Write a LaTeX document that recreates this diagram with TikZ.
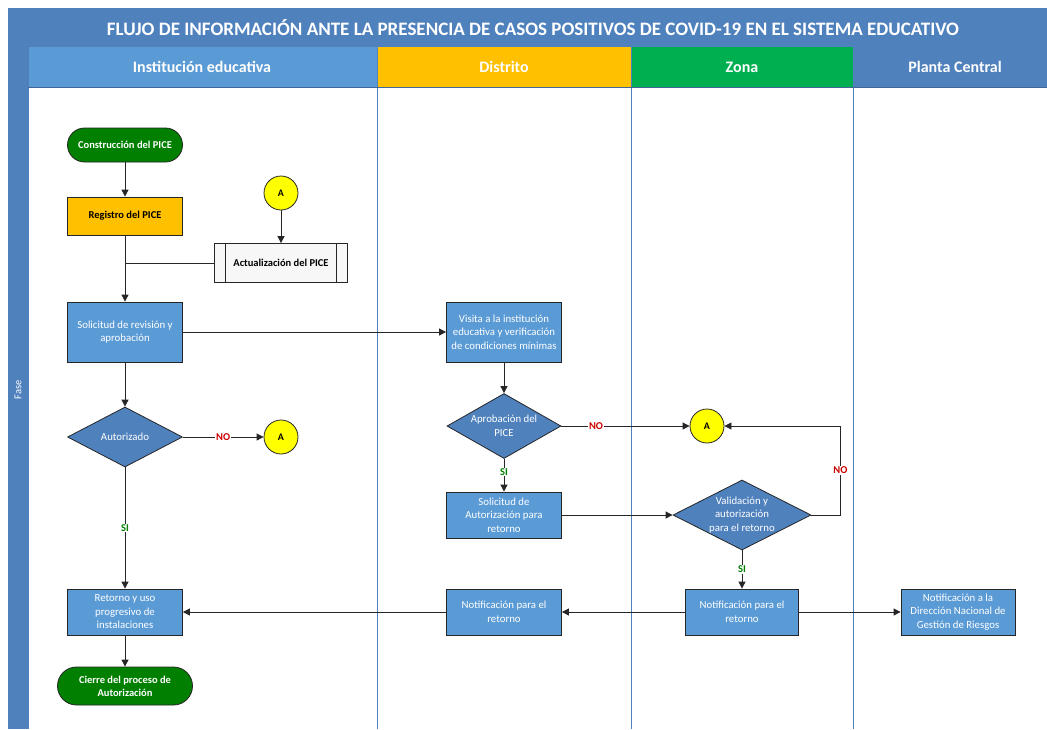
\documentclass[tikz,border=0pt]{standalone}
\usepackage{fontspec}
\setmainfont{Carlito}
\usetikzlibrary{arrows.meta,positioning,shapes,calc}
\definecolor{barblue}{HTML}{4F81BD}
\definecolor{boxblue}{HTML}{5B9BD5}
\definecolor{laneyellow}{HTML}{FFC000}
\definecolor{lanegreen}{HTML}{00B050}
\definecolor{termgreen}{HTML}{007F00}
\definecolor{conyellow}{HTML}{FFFF00}
\tikzstyle{every picture}=[x=1pt,y=-1pt]
\tikzstyle{process}=[rectangle,draw=black!85,fill=boxblue,text=white,line width=0.8pt,minimum width=115pt,minimum height=46pt,align=center,inner sep=2pt,font=\fontsize{10.8}{13.5}\selectfont]
\tikzstyle{decision}=[diamond,draw=black!85,fill=barblue,text=white,line width=0.8pt,minimum width=115pt,minimum height=62pt,inner xsep=-30pt,inner ysep=-15pt,align=center,font=\fontsize{10.8}{13.5}\selectfont]
\tikzstyle{terminal}=[rectangle,rounded corners=17pt,draw=black!85,fill=termgreen,text=white,line width=0.8pt,minimum width=115pt,minimum height=34pt,align=center,font=\bfseries\fontsize{10.5}{13}\selectfont]
\tikzstyle{connector}=[circle,draw=black!85,fill=conyellow,line width=0.8pt,minimum size=34pt,inner sep=0pt,font=\bfseries\fontsize{10}{12}\selectfont]
\tikzstyle{lanehead}=[text=white,font=\bfseries\fontsize{16}{19}\selectfont]
\tikzstyle{arr}=[-{Triangle[length=7pt,width=7pt]},line width=0.8pt,draw=black!85]
\tikzstyle{nolabel}=[fill=white,text=red!80!black,inner sep=1pt,font=\bfseries\fontsize{10.5}{12}\selectfont]
\tikzstyle{silabel}=[fill=white,text=green!50!black,inner sep=1pt,font=\bfseries\fontsize{10.5}{12}\selectfont]

\begin{document}
\begin{tikzpicture}
      \useasboundingbox (0,0) rectangle (1047,729);
      % frame, title and lanes
      \fill[barblue] (8,8) rectangle (1047,47);
      \node[lanehead,font=\bfseries\fontsize{19}{22}\selectfont] at (533,28) (title) {FLUJO DE INFORMACIÓN ANTE LA PRESENCIA DE CASOS POSITIVOS DE COVID-19 EN EL SISTEMA EDUCATIVO};
      \fill[barblue] (8,47) rectangle (28,729);
      \node[text=white,rotate=90,font=\fontsize{10.5}{12}\selectfont] at (18,390) (fase) {Fase};
      \fill[boxblue] (28,47) rectangle (377,87);
      \fill[laneyellow] (377,47) rectangle (631,87);
      \fill[lanegreen] (631,47) rectangle (853,87);
      \fill[barblue] (853,47) rectangle (1047,87);
      \node[lanehead] at (202,67) (ie) {Institución educativa};
      \node[lanehead] at (504,67) (dis) {Distrito};
      \node[lanehead] at (742,67) (zon) {Zona};
      \node[lanehead] at (955,67) (pc) {Planta Central};
      \foreach \x in {28,377,631,853}
        \draw[barblue,line width=0.8pt] (\x,47) -- (\x,729);
      \draw[barblue!80!black,line width=0.6pt] (28,87) -- (1047,87);

      % nodes
      \node[terminal] at (125,145) (cons) {Construcción del PICE};
      \node[process,fill=laneyellow,text=black,font=\bfseries\fontsize{10.5}{13}\selectfont,minimum height=38pt] at (125,216) (reg) {Registro del PICE};
      \node[connector] at (281,193) (conA) {A};
      \node[process,fill=gray!6,text=black,font=\bfseries\fontsize{10.5}{13}\selectfont,minimum width=133pt,minimum height=39pt,
            path picture={\draw[black!85,line width=0.8pt] ($(path picture bounding box.north west)+(11,0)$) -- ($(path picture bounding box.south west)+(11,0)$)
                                                          ($(path picture bounding box.north east)+(-11,0)$) -- ($(path picture bounding box.south east)+(-11,0)$);}] at (281,263) (act) {Actualización del PICE};
      \node[process,minimum height=60pt] at (125,332) (sol) {Solicitud de revisión y\\aprobación};
      \node[process,minimum height=60pt] at (504,332) (vis) {Visita a la institución\\educativa y verificación\\de condiciones mínimas};
      \node[decision,minimum height=60pt] at (125,437) (aut) {Autorizado};
      \node[connector] at (281,437) (conB) {A};
      \node[decision,minimum width=114pt,minimum height=65pt] at (504,426) (apr) {Aprobación del\\PICE};
      \node[connector] at (707,426) (conC) {A};
      \node[process] at (504,515) (solaut) {Solicitud de\\Autorización para\\retorno};
      \node[decision,minimum width=138pt,minimum height=70pt] at (742,515) (val) {Validación y\\autorización\\para el retorno};
      \node[process] at (125,612) (ret) {Retorno y uso\\progresivo de\\instalaciones};
      \node[process] at (504,612) (notd) {Notificación para el\\retorno};
      \node[process,minimum width=113pt] at (742,612) (notz) {Notificación para el\\retorno};
      \node[process,minimum width=114pt] at (958,612) (notp) {Notificación a la\\Dirección Nacional de\\Gestión de Riesgos};
      \node[terminal,minimum width=135pt,minimum height=38pt,rounded corners=19pt] at (125,686) (cie) {Cierre del proceso de\\Autorización};

      % connectors
      \draw[arr] (cons) -- (reg);
      \draw[arr] (reg) -- (sol);
      \draw[arr] (conA) -- (act);
      \draw[line width=0.8pt,draw=black!85] (act.west) -- (act.west -| reg.south);
      \draw[arr] (sol) -- (vis);
      \draw[arr] (sol) -- (aut);
      \draw[arr] (aut) -- node[nolabel] {NO} (conB);
      \draw[arr] (aut) -- node[silabel] {SI} (ret);
      \draw[arr] (vis) -- (apr);
      \draw[arr] (apr) -- node[nolabel,pos=0.27] {NO} (conC);
      \draw[arr] (apr) -- node[silabel,pos=0.4] {SI} (solaut);
      \draw[arr] (solaut) -- (val);
      \draw[arr] (val.east) -- ++(29,0) |- node[nolabel,pos=0.25] {NO} (conC.east);
      \draw[arr] (val) -- node[silabel] {SI} (notz);
      \draw[arr] (notz) -- (notd);
      \draw[arr] (notd) -- (ret);
      \draw[arr] (notz) -- (notp);
      \draw[arr] (ret) -- (cie);
\end{tikzpicture}
\end{document}
